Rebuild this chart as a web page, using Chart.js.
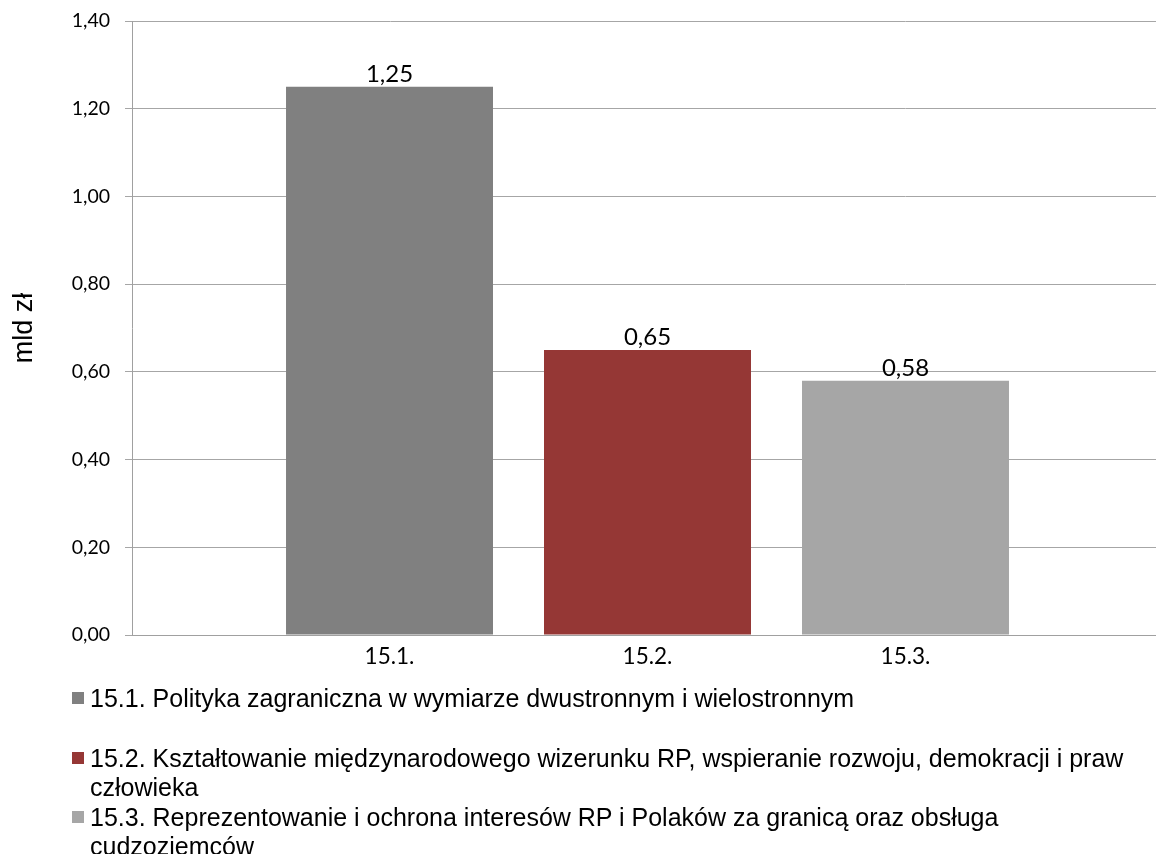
<!DOCTYPE html>
<html lang="pl">
<head>
<meta charset="utf-8">
<script src="https://cdn.jsdelivr.net/npm/chart.js@4"></script>
<style>
  html, body { margin: 0; padding: 0; background: #fff; overflow: hidden; }
  #wrap { position: absolute; left: 0; top: 0; width: 1164px; height: 690px; }
  #legend {
    position: absolute; left: 72px; top: 683.5px; width: 1078px;
    font-family: "Liberation Sans", Arial, sans-serif; font-size: 25px;
    line-height: 29px; color: #000;
  }
  #legend .item { display: flex; align-items: flex-start; }
  #legend .box {
    flex: 0 0 12px; width: 12px; height: 12px; margin: 8.5px 6px 0 0;
  }
</style>
</head>
<body>
<div id="wrap"><canvas id="chart"></canvas></div>
<div id="legend"></div>
<script>
// dane
const kody = ['15.1.', '15.2.', '15.3.'];
const opisy = [
    '15.1. Polityka zagraniczna w wymiarze dwustronnym i wielostronnym',
    '15.2. Kształtowanie międzynarodowego wizerunku RP, wspieranie rozwoju, demokracji i praw człowieka',
    '15.3. Reprezentowanie i ochrona interesów RP i Polaków za granicą oraz obsługa cudzoziemców'
];
const wartosci = [1.25, 0.65, 0.58];
const kolory = ['#808080', '#953735', '#a6a6a6'];
const yTicks = [0, 0.2, 0.4, 0.6, 0.8, 1.0, 1.2, 1.4];

const fmt = v => v.toFixed(2).replace('.', ',');

// etykiety nad słupkami i pod osią
const etykiety = {
    id: 'etykiety',
    afterDatasetsDraw(chart) {
        const ctx = chart.ctx;
        ctx.save();
        ctx.fillStyle = '#000';
        ctx.textAlign = 'center';
        chart.data.datasets.forEach((ds, i) => {
            const bar = chart.getDatasetMeta(i).data[0];
            ctx.font = '24px Lato';
            ctx.textBaseline = 'alphabetic';
            ctx.fillText(fmt(ds.data[0]), bar.x, bar.y - 5);
            ctx.font = '22.5px Lato';
            ctx.textBaseline = 'middle';
            ctx.fillText(kody[i], bar.x, chart.chartArea.bottom + 22);
        });
        ctx.restore();
    }
};

const ctx = document.getElementById('chart').getContext('2d');
new Chart(ctx, {
    type: 'bar',
    data: {
        labels: [''],
        datasets: kody.map((k, i) => ({
            label: opisy[i],
            data: [wartosci[i]],
            backgroundColor: kolory[i],
            categoryPercentage: 0.7507,
            barPercentage: 0.8023
        }))
    },
    options: {
        responsive: true,
        maintainAspectRatio: false,
        animation: false,
        layout: { padding: { top: 21, right: 1, left: 0, bottom: 0 } },
        plugins: {
            legend: { display: false },
            tooltip: { enabled: false }
        },
        scales: {
            x: {
                grid: { display: false },
                border: { display: true, color: '#a0a0a0', width: 1 },
                ticks: { display: false },
                afterFit(s) { s.height = 55; }
            },
            y: {
                min: 0,
                max: 1.4,
                afterBuildTicks(s) { s.ticks = yTicks.map(v => ({ value: v })); },
                grid: { color: '#a6a6a6', tickLength: 7, tickColor: '#a6a6a6' },
                border: { display: true, color: '#a0a0a0' },
                ticks: {
                    padding: 15,
                    color: '#000',
                    font: { family: 'Lato', size: 19.5 },
                    callback: v => fmt(v)
                },
                title: {
                    display: true,
                    text: 'mld zł',
                    color: '#000',
                    font: { family: 'Liberation Sans', size: 27 },
                    padding: { top: 8, bottom: 0 }
                },
                afterFit(s) {
                    s.width = 132;
                    s.paddingTop = 0;
                    s.paddingBottom = 0;
                }
            }
        }
    },
    plugins: [etykiety]
});

// legenda
const leg = document.getElementById('legend');
const odstepy = [0, 31, 1];
opisy.forEach((t, i) => {
    const d = document.createElement('div');
    d.className = 'item';
    d.style.marginTop = odstepy[i] + 'px';
    const box = document.createElement('span');
    box.className = 'box';
    box.style.background = kolory[i];
    const txt = document.createElement('span');
    txt.textContent = t;
    d.appendChild(box);
    d.appendChild(txt);
    leg.appendChild(d);
});
</script>
</body>
</html>
